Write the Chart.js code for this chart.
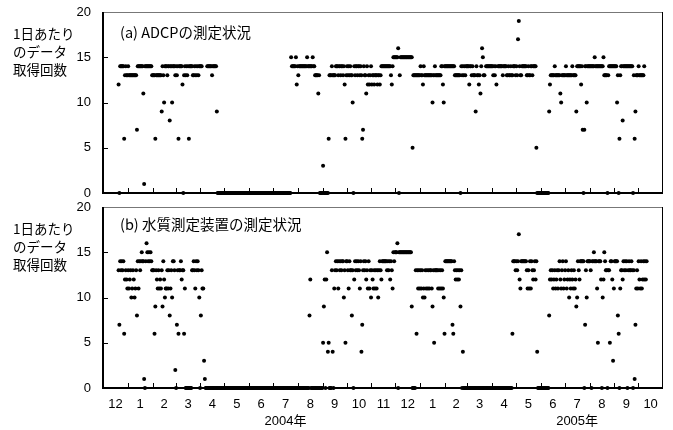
<!DOCTYPE html>
<html lang="ja">
<head>
<meta charset="utf-8">
<script src="https://cdn.jsdelivr.net/npm/chart.js@4.4.1/dist/chart.umd.min.js"></script>
<style>
  body { margin: 0; background: #fff; }
  #wrap { position: relative; width: 673px; height: 430px; font-family: "Noto Sans CJK JP", sans-serif; color: #000; }
  canvas { position: absolute; left: 0; }
  .ylab { position: absolute; left: 13px; font-size: 13.5px; line-height: 18px; white-space: nowrap; }
  .ptitle { position: absolute; left: 120px; font-size: 14.5px; line-height: 18px; white-space: nowrap; }
</style>
</head>
<body>
<div id="wrap">
  <canvas id="c1" width="673" height="198" style="top:0"></canvas>
  <canvas id="c2" width="673" height="232" style="top:198px"></canvas>
  <div class="ylab" style="top:24px">1日あたり<br>のデータ<br>取得回数</div>
  <div class="ylab" style="top:219px">1日あたり<br>のデータ<br>取得回数</div>
  <div class="ptitle" style="top:23px">(a) ADCPの測定状況</div>
  <div class="ptitle" style="top:215px">(b) 水質測定装置の測定状況</div>
</div>
<script>
const N = null;

// months on the x axis: Dec 2003 .. Oct 2005
const monthDays = [31, 31, 29, 31, 30, 31, 30, 31, 31, 30, 31, 30, 31, 31, 28, 31, 30, 31, 30, 31, 31, 30, 31];
const monthLabels = ['12', '1', '2', '3', '4', '5', '6', '7', '8', '9', '10', '11', '12', '1', '2', '3', '4', '5', '6', '7', '8', '9', '10'];
const yearLabels = ['2004年', '2005年'];
const yearMonthIndex = [7, 19];
const yTicks = [0, 5, 10, 15, 20];

// (a) ADCP - records per day, one row per month
const adcpCounts = [
  [N,N,N,N,N,N,N,N,N,N,N,N,N,N,N,N,N,N,N,12,0,14,14,14,14,14,6,13,14,13,13],
  [14,13,13,13,13,13,13,13,13,13,13,7,14,14,14,14,14,14,14,11,1,14,14,14,14,14,14,14,14,14,13],
  [13,13,13,6,13,13,13,13,13,13,13,9,14,13,10,14,14,14,13,14,14,8,14,14,10,14,14,14,13],
  [14,13,14,6,14,14,14,14,12,0,13,14,13,14,13,14,6,14,14,14,14,13,13,14,13,14,13,14,13,14,14],
  [14,14,N,N,N,N,N,N,14,14,14,14,14,14,13,14,14,14,14,14,9,0,0,0,0,0,0,0,0,0],
  [0,0,0,0,0,0,0,0,0,0,0,0,0,0,0,0,0,0,0,0,0,0,0,0,0,0,0,0,0,0,0],
  [0,0,0,0,0,0,0,0,0,0,0,0,0,0,0,0,0,0,0,0,0,0,0,0,0,0,0,0,0,0],
  [0,0,0,0,0,0,0,0,0,0,0,0,0,0,0,0,0,0,0,0,0,0,15,14,14,14,14,14,15,12,14],
  [13,14,14,14,14,14,14,14,14,14,14,15,14,14,14,14,14,14,15,14,14,13,13,13,13,11,13,0,0,0,0],
  [3,0,0,0,0,0,0,6,13,13,13,14,13,13,13,13,14,14,14,13,14,14,13,14,14,13,14,12,6,13],
  [14,13,14,13,14,13,13,10,0,14,13,14,14,13,14,14,13,14,13,6,7,14,13,13,11,14,12,13,12,13,14],
  [12,13,13,12,13,13,13,12,13,13,12,13,14,14,14,14,14,14,14,14,14,14,14,14,13,12,14,15,15,15],
  [15,15,15,16,0,13,15,15,15,15,15,15,15,15,15,15,15,15,15,15,15,5,13,13,13,13,13,13,13,13,13],
  [14,13,13,12,14,13,13,13,13,13,13,13,13,13,13,10,13,13,14,13,13,13,13,13,13,13,14,14,12,10,14],
  [14,14,14,14,14,14,14,14,14,14,14,14,13,13,13,13,13,13,13,0,14,13,14,13,14,13,14,14],
  [14,14,12,14,14,13,14,13,13,13,9,14,13,13,12,13,11,14,16,15,13,13,N,14,14,14,14,14,14,14,14],
  [14,13,14,13,14,12,N,14,14,14,14,14,14,13,14,14,14,14,13,13,14,13,13,14,13,13,14,14,14,13],
  [14,13,17,19,14,13,13,14,14,14,14,14,14,13,13,14,13,13,14,14,13,14,14,14,14,5,0,0,0,0,0],
  [0,0,0,0,0,0,0,0,0,0,9,12,13,13,13,13,13,14,13,13,13,13,13,13,11,10,13,13,13,13],
  [13,14,13,13,13,13,13,13,13,14,13,13,13,13,9,14,14,14,14,14,12,14,7,0,7,14,14,10,14,14,14],
  [14,14,14,14,14,14,15,14,14,14,14,14,14,14,14,14,14,15,13,13,13,13,0,13,14,14,14,14,14,14,14],
  [14,14,14,10,13,0,6,13,14,14,8,14,14,14,14,14,14,14,14,14,14,14,14,0,13,6,9,13,13,13],
  [14,13,13,13,13,13,13,14,N,N,N,N,N,N,N,N,N,N,N,N,N,N,N,N,N,N,N,N,N,N,N]
];

// (b) water quality sensor - records per day, one row per month
const waterCounts = [
  [N,N,N,N,N,N,N,N,N,N,N,N,N,N,N,N,N,N,N,13,7,14,13,14,13,14,6,12,13,12,11],
  [13,11,12,13,10,11,13,12,10,11,13,8,14,11,14,13,14,15,14,14,1,0,14,16,15,14,15,14,15,14,13],
  [13,13,6,9,13,12,11,13,11,12,11,13,9,14,12,10,11,11,13,11,13,8,11,13,10,14,14,13,2],
  [0,7,13,6,13,13,14,12,13,13,6,11,0,0,0,0,0,0,0,0,13,13,14,13,11,14,13,14,13,10,0],
  [8,13,11,11,3,1,0,0,0,0,0,0,0,0,0,0,0,0,0,0,0,0,0,0,0,0,0,0,0,0],
  [0,0,0,0,0,0,0,0,0,0,0,0,0,0,0,0,0,0,0,0,0,0,0,0,0,0,0,0,0,0,0],
  [0,0,0,0,0,0,0,0,0,0,0,0,0,0,0,0,0,0,0,0,0,0,0,0,0,0,0,0,0,0],
  [0,0,0,0,0,0,0,0,0,0,0,0,0,0,0,0,0,0,0,0,0,0,0,0,0,0,0,0,0,0,0],
  [0,0,0,0,0,0,0,0,0,0,0,0,0,0,8,12,0,0,0,0,0,0,0,0,0,0,0,0,0,0,0],
  [5,9,12,0,12,15,4,5,0,0,0,13,4,0,11,13,14,13,14,11,14,13,14,13,14,14,10,13,5,14],
  [14,13,11,14,13,13,8,13,0,12,14,13,14,13,14,13,11,14,4,7,13,14,13,14,12,13,11,14,11,13,10],
  [13,12,11,13,11,13,11,13,10,13,14,13,12,14,14,14,14,14,14,13,14,13,14,12,14,13,11,15,14,15],
  [15,15,16,0,15,15,15,15,15,15,15,15,15,15,15,15,15,15,15,15,9,0,0,0,0,13,6,13,11,13,11],
  [13,11,13,10,11,10,13,11,13,11,13,11,13,13,11,9,13,5,13,13,13,13,11,13,11,13,11,13,11,10,6],
  [14,14,14,14,14,14,14,14,14,7,6,14,13,12,13,12,13,12,13,9,13,0,4,0,0,0,0,0],
  [0,0,0,0,0,0,0,0,0,0,0,0,0,0,0,0,0,0,0,0,0,0,0,0,0,0,0,0,0,0,0],
  [0,0,0,0,0,0,0,0,0,0,0,0,0,0,0,0,0,0,0,0,0,0,0,0,0,6,14,14,14,13],
  [14,13,14,17,12,11,14,14,14,14,14,14,14,13,11,13,11,14,11,14,13,12,13,14,12,14,4,0,0,0,0],
  [0,0,0,0,0,0,0,0,0,0,8,12,13,12,13,11,12,13,11,12,13,11,13,14,12,11,13,14,11,12],
  [13,14,11,12,13,10,12,11,13,12,11,13,11,12,9,10,14,13,12,14,14,14,14,14,0,7,13,10,14,14,14],
  [14,13,0,14,14,15,14,14,14,11,5,14,14,14,12,0,10,12,15,14,13,13,0,13,13,5,14,14,12,3,11],
  [14,14,14,14,8,6,0,11,13,13,12,14,13,14,13,14,0,13,14,13,13,14,13,0,13,1,7,11,13,11],
  [14,12,11,14,11,12,14,12,14,12,14,N,N,N,N,N,N,N,N,N,N,N,N,N,N,N,N,N,N,N,N]
];

// day offset of each month start
const monthStart = [];
let totalDays = 0;
monthDays.forEach(n => { monthStart.push(totalDays); totalDays += n; });

function toPoints(rows) {
  const pts = [];
  rows.forEach((row, m) => row.forEach((v, i) => {
    if (v !== null) pts.push({ x: monthStart[m] + i + 0.5, y: v });
  }));
  return pts;
}

const tickFont = { family: "'Liberation Sans', 'Noto Sans CJK JP', sans-serif", size: 13, lineHeight: 1.3 };

// box around the plot, heavy left/bottom axis, small inward ticks
const frame = {
  id: 'frame',
  beforeDatasetsDraw(chart) {
    const { ctx, chartArea: a, scales } = chart;
    ctx.save();
    ctx.lineWidth = 1;
    ctx.strokeStyle = '#777';
    ctx.beginPath(); ctx.moveTo(a.left, a.top + 0.5); ctx.lineTo(a.right, a.top + 0.5); ctx.stroke();
    ctx.strokeStyle = '#000';
    ctx.beginPath(); ctx.moveTo(a.right - 0.5, a.top); ctx.lineTo(a.right - 0.5, a.bottom); ctx.stroke();
    ctx.beginPath();
    monthStart.slice(1).forEach(d => {
      const px = Math.round(scales.x.getPixelForValue(d)) + 0.5;
      ctx.moveTo(px, a.bottom); ctx.lineTo(px, a.bottom - 5);
    });
    yTicks.slice(1, -1).forEach(v => {
      const py = Math.round(scales.y.getPixelForValue(v)) + 0.5;
      ctx.moveTo(a.left, py); ctx.lineTo(a.left + 5, py);
    });
    ctx.stroke();
    ctx.lineWidth = 2;
    ctx.beginPath(); ctx.moveTo(a.left, a.top); ctx.lineTo(a.left, a.bottom); ctx.lineTo(a.right, a.bottom); ctx.stroke();
    ctx.restore();
  }
};

function panel(id, rows, showX, pad) {
  return new Chart(document.getElementById(id), {
    type: 'scatter',
    data: {
      datasets: [{
        data: toPoints(rows),
        backgroundColor: '#000',
        borderWidth: 0,
        pointRadius: 2,
        pointHoverRadius: 2,
        clip: false
      }]
    },
    options: {
      responsive: false,
      animation: false,
      events: [],
      layout: { padding: pad },
      plugins: { legend: { display: false }, tooltip: { enabled: false } },
      scales: {
        x: {
          type: 'linear', min: 0, max: totalDays,
          grid: { display: false, drawTicks: false }, border: { display: false },
          afterBuildTicks: s => { s.ticks = monthStart.map((d, i) => ({ value: d + monthDays[i] / 2 })); },
          afterFit: s => { s.height = showX ? 42 : 0; s.paddingLeft = 0; s.paddingRight = 0; },
          ticks: {
            display: showX,
            autoSkip: false, maxRotation: 0, minRotation: 0, padding: 8, color: '#000', font: tickFont,
            callback: (v, i) => {
              const k = yearMonthIndex.indexOf(i);
              return k < 0 ? monthLabels[i] : [monthLabels[i], yearLabels[k]];
            }
          }
        },
        y: {
          min: 0, max: 20,
          grid: { display: false, drawTicks: false }, border: { display: false },
          afterBuildTicks: s => { s.ticks = yTicks.map(v => ({ value: v })); },
          afterFit: s => { s.width = 103; s.paddingTop = 0; s.paddingBottom = 0; },
          ticks: { padding: 12, color: '#000', font: tickFont }
        }
      }
    },
    plugins: [frame]
  });
}

panel('c1', adcpCounts, false, { top: 12, right: 10, bottom: 5, left: 0 });
panel('c2', waterCounts, true, { top: 9, right: 10, bottom: 0, left: 0 });
</script>
</body>
</html>
